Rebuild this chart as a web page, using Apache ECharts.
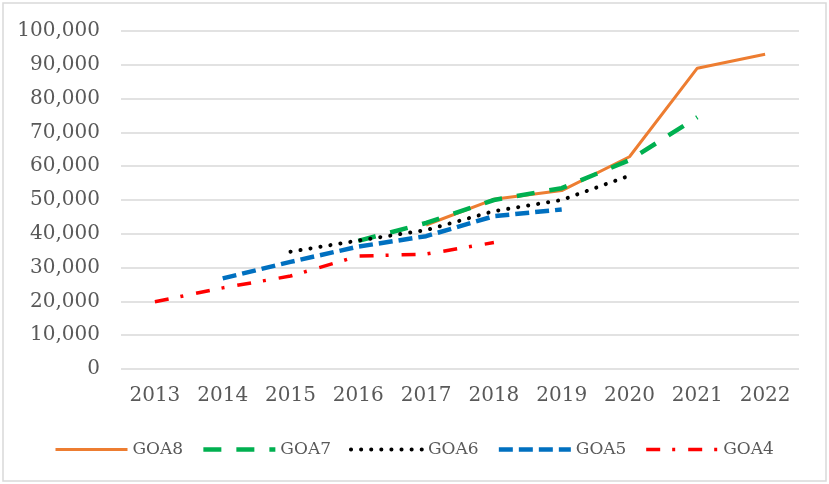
<!DOCTYPE html>
<html>
<head>
<meta charset="utf-8">
<script src="https://cdn.jsdelivr.net/npm/echarts@6/dist/echarts.min.js"></script>
<style>
  html, body { margin: 0; padding: 0; background: #fff; }
  #main { width: 829px; height: 484px; }
</style>
</head>
<body>
<div id="main"></div>
<script>
// categories and series
var years = ['2013', '2014', '2015', '2016', '2017', '2018', '2019', '2020', '2021', '2022'];
var goa8 = [null, null, null, null, 42600, 50200, 52800, 62800, 89000, 93100];
var goa7 = [null, null, null, 37900, 43200, 50000, 53500, 61800, 74500, null];
var goa6 = [null, null, 34700, 38000, 41100, 46700, 50000, 57200, null, null];
var goa5 = [null, 26800, 31700, 36200, 39300, 45200, 47200, null, null, null];
var goa4 = [19900, 24000, 27500, 33400, 34000, 37400, null, null, null, null];

var font = 'DejaVu Serif';
var txt = '#595959';

// name, colour, width, dash, cap
var styles = [
  ['GOA8', '#ED7D31', 3, 'solid', 'butt'],
  ['GOA7', '#00B050', 4.5, [18, 15], 'butt'],
  ['GOA6', '#000000', 4, [0.1, 10], 'round'],
  ['GOA5', '#0070C0', 4.5, [14, 6], 'butt'],
  ['GOA4', '#FF0000', 3.5, [14, 12, 3, 13], 'butt']
];
var seriesData = [goa8, goa7, goa6, goa5, goa4];

var chart = echarts.init(document.getElementById('main'));

var series = styles.map(function (s, i) {
  return {
    name: s[0],
    type: 'line',
    data: seriesData[i],
    symbol: 'none',
    lineStyle: { color: s[1], width: s[2], type: s[3], cap: s[4] },
    itemStyle: { color: s[1] }
  };
});

var legendData = styles.map(function (s) {
  return {
    name: s[0],
    itemStyle: { opacity: 0 },
    lineStyle: { color: s[1], width: s[2], type: s[3], cap: s[4] }
  };
});

chart.setOption({
  animation: false,
  backgroundColor: '#fff',
  graphic: [{
    type: 'rect',
    shape: { x: 3, y: 3, width: 823, height: 478 },
    style: { fill: 'none', stroke: '#d9d9d9', lineWidth: 1.5 },
    silent: true
  }],
  grid: { left: 121, right: 30, top: 31, bottom: 115 },
  legend: {
    left: 49,
    top: 436,
    itemWidth: 72,
    itemHeight: 20,
    itemGap: 18,
    textStyle: { fontFamily: font, fontSize: 17, color: txt },
    data: legendData
  },
  xAxis: {
    type: 'category',
    data: years,
    boundaryGap: true,
    axisLine: { show: false },
    axisTick: { show: false },
    axisLabel: { fontFamily: font, fontSize: 20, color: txt, margin: 17 }
  },
  yAxis: {
    type: 'value',
    min: 0,
    max: 100000,
    interval: 10000,
    axisLine: { show: false },
    axisTick: { show: false },
    splitLine: { lineStyle: { color: '#d9d9d9', width: 1.5 } },
    axisLabel: {
      fontFamily: font, fontSize: 20, color: txt, margin: 21,
      formatter: function (v) { return v.toLocaleString('en-US'); }
    }
  },
  series: series
});
</script>
</body>
</html>
